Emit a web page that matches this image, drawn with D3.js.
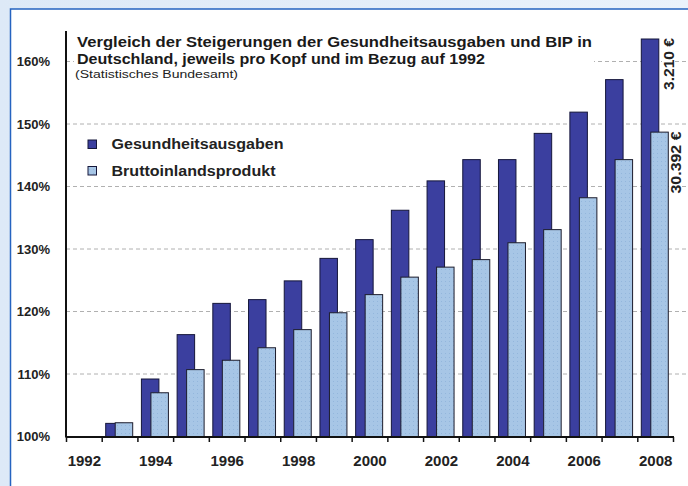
<!DOCTYPE html>
<html><head><meta charset="utf-8">
<script src="https://cdn.jsdelivr.net/npm/d3@7"></script>
<style>
html,body{margin:0;padding:0;background:#e4eef9;}
svg{display:block;}
text{font-family:"Liberation Sans",Arial,sans-serif;}
</style></head>
<body>
<svg id="chart" width="688" height="486"></svg>
<script>
const years = ["1992","1993","1994","1995","1996","1997","1998","1999","2000","2001","2002","2003","2004","2005","2006","2007","2008"];
const gesundheit = [100,102.1,109.2,116.3,121.3,121.9,124.9,128.5,131.5,136.2,140.9,144.3,144.3,148.5,151.9,157.1,163.6];
const bip = [100,102.2,107.0,110.7,112.2,114.2,117.1,119.8,122.7,125.5,127.1,128.3,131.0,133.1,138.2,144.3,148.7];
const yTicks = [100,110,120,130,140,150,160];
const xLabels = ["1992","1994","1996","1998","2000","2002","2004","2006","2008"];
const seriesNames = ["Gesundheitsausgaben","Bruttoinlandsprodukt"];
const titleLines = ["Vergleich der Steigerungen der Gesundheitsausgaben und BIP in","Deutschland, jeweils pro Kopf und im Bezug auf 1992"];
const subtitle = "(Statistisches Bundesamt)";
const endNotes = ["3.210 €","30.392 €"];

const svg = d3.select("#chart");
const defs = svg.append("defs");
const bg = defs.append("linearGradient").attr("id","bg").attr("x1",0).attr("x2",1).attr("y1",0).attr("y2",0);
bg.append("stop").attr("offset","0%").attr("stop-color","#dde9f7");
bg.append("stop").attr("offset","100%").attr("stop-color","#eaf2fb");
const pat = defs.append("pattern").attr("id","dots").attr("width",4).attr("height",4).attr("patternUnits","userSpaceOnUse");
pat.append("rect").attr("width",4).attr("height",4).attr("fill","#a7c6e6");
pat.append("rect").attr("x",1).attr("y",1).attr("width",1).attr("height",1).attr("fill","#93b6dc");

svg.append("rect").attr("width",688).attr("height",486).attr("fill","url(#bg)");
svg.append("rect").attr("x",10.5).attr("y",9).attr("width",700).attr("height",500)
  .attr("fill","#fff").attr("stroke","#2563c0").attr("stroke-width",1.5);

const x = d3.scaleBand().domain(years).range([66.5,673.5]).padding(0);
const y = d3.scaleLinear().domain([100,160]).range([436.5,61.5]);
const bw = x.bandwidth();

// gridlines
svg.append("g").selectAll("line").data(yTicks.filter(d=>d>100)).join("line")
  .attr("x1",66).attr("x2",688).attr("y1",d=>y(d)).attr("y2",d=>y(d))
  .attr("stroke","#b0b0b0").attr("stroke-width",1).attr("stroke-dasharray","4,3");

// title block (white background hides gridline)
svg.append("rect").attr("x",74).attr("y",30).attr("width",520).attr("height",58).attr("fill","#fff");
svg.append("text").attr("x",77).attr("y",46.5).attr("font-size",14).attr("font-weight","bold").attr("fill","#1a1a1a")
  .attr("textLength",515).attr("lengthAdjust","spacingAndGlyphs").text(titleLines[0]);
svg.append("text").attr("x",77).attr("y",63.5).attr("font-size",14).attr("font-weight","bold").attr("fill","#1a1a1a")
  .attr("textLength",408).attr("lengthAdjust","spacingAndGlyphs").text(titleLines[1]);
svg.append("text").attr("x",75).attr("y",77.5).attr("font-size",10).attr("fill","#222")
  .attr("textLength",163).attr("lengthAdjust","spacingAndGlyphs").text(subtitle);

// bars
const g = svg.append("g");
g.selectAll("rect.g").data(years.map((yr,i)=>({yr,v:gesundheit[i]}))).join("rect")
  .attr("class","g")
  .attr("x",d=>x(d.yr)+3.5).attr("width",bw*0.49)
  .attr("y",d=>y(d.v)).attr("height",d=>y(100)-y(d.v))
  .attr("fill","#3b3f9f").attr("stroke","#15163a").attr("stroke-width",1)
  .attr("display",d=>d.v<=100?"none":null);
g.selectAll("rect.b").data(years.map((yr,i)=>({yr,v:bip[i]}))).join("rect")
  .attr("class","b")
  .attr("x",d=>x(d.yr)+13).attr("width",bw*0.49)
  .attr("y",d=>y(d.v)).attr("height",d=>y(100)-y(d.v))
  .attr("fill","url(#dots)").attr("stroke","#1c1c2c").attr("stroke-width",1)
  .attr("display",d=>d.v<=100?"none":null);

// axes
const yAxis = d3.axisLeft(y).tickValues(yTicks).tickSize(0).tickPadding(16).tickFormat(d=>d+"%");
const ya = svg.append("g").attr("transform","translate(66,0)").call(yAxis);
ya.select(".domain").remove();
ya.selectAll("text").attr("font-size",13).attr("font-weight","bold").attr("fill","#222")
  .attr("font-family","'Liberation Sans',Arial,sans-serif");
svg.append("line").attr("x1",66).attr("x2",66).attr("y1",31).attr("y2",437.5).attr("stroke","#111").attr("stroke-width",2);

const xa = svg.append("g").attr("transform","translate(0,437)")
  .call(d3.axisBottom(x).tickValues(xLabels).tickSize(0).tickPadding(18));
xa.select(".domain").remove();
xa.selectAll("text").attr("font-size",15).attr("font-weight","bold").attr("fill","#222")
  .attr("font-family","'Liberation Sans',Arial,sans-serif");
svg.append("g").selectAll("line").data(years.concat(["end"])).join("line")
  .attr("x1",d=>d==="end"?x.range()[1]:x(d)).attr("x2",d=>d==="end"?x.range()[1]:x(d))
  .attr("y1",437).attr("y2",442).attr("stroke","#111").attr("stroke-width",1.5);
svg.append("line").attr("x1",66).attr("x2",674).attr("y1",437).attr("y2",437).attr("stroke","#111").attr("stroke-width",2);

// legend
const colors = ["#3b3f9f","url(#dots)"];
seriesNames.forEach((n,i)=>{
  svg.append("rect").attr("x",88).attr("y",140+i*26.5).attr("width",8.5).attr("height",8.5)
    .attr("fill",colors[i]).attr("stroke","#15163a").attr("stroke-width",1);
  svg.append("text").attr("x",111.5).attr("y",149.3+i*26.7).attr("font-size",14).attr("font-weight","bold").attr("fill","#222")
    .attr("textLength",i===0?172:164).attr("lengthAdjust","spacingAndGlyphs").text(n);
});

// end notes (rotated)
const notes = [{t:endNotes[0],cx:674,cy:64,len:52},{t:endNotes[1],cx:681,cy:162.5,len:62}];
notes.forEach(n=>{
  svg.append("rect").attr("x",n.cx-12).attr("y",n.cy-n.len/2-2).attr("width",13).attr("height",n.len+4).attr("fill","#fff");
  svg.append("text").attr("transform",`translate(${n.cx},${n.cy}) rotate(-90)`).attr("text-anchor","middle")
    .attr("font-size",14).attr("font-weight","bold").attr("fill","#222")
    .attr("textLength",n.len).attr("lengthAdjust","spacingAndGlyphs").text(n.t);
});
</script>
</body></html>
